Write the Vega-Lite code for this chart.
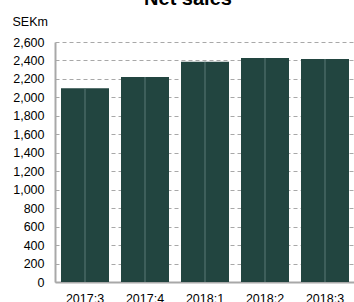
{
  "$schema": "https://vega.github.io/schema/vega-lite/v6.json",
  "autosize": "none",
  "width": 300,
  "height": 240,
  "padding": {"left": 55, "top": 42, "right": 0, "bottom": 20},
  "background": "white",
  "config": {
    "font": "Liberation Sans",
    "view": {"stroke": null}
  },
  "title": {
    "text": "Net sales",
    "font": "Liberation Sans",
    "fontSize": 20,
    "fontWeight": "bold",
    "color": "#000000",
    "anchor": "middle",
    "dx": -17,
    "offset": -10,
    "baseline": "alphabetic"
  },
  "data": {
    "values": [
      {"quarter": "2017:3", "value": 2100},
      {"quarter": "2017:4", "value": 2221},
      {"quarter": "2018:1", "value": 2387},
      {"quarter": "2018:2", "value": 2427},
      {"quarter": "2018:3", "value": 2416}
    ]
  },
  "encoding": {
    "x": {
      "field": "quarter",
      "type": "nominal",
      "sort": null,
      "scale": {"paddingInner": 0.2, "paddingOuter": 0.1},
      "axis": {
        "title": null,
        "labelAngle": 0,
        "labelFont": "Liberation Sans",
        "labelFontSize": 12.5,
        "labelColor": "#000000",
        "labelPadding": 10,
        "ticks": false,
        "domainColor": "#a8a8a8",
        "domainWidth": 2,
        "grid": false
      }
    },
    "y": {
      "field": "value",
      "type": "quantitative",
      "scale": {"domain": [0, 2600], "nice": false},
      "axis": {
        "values": [0, 200, 400, 600, 800, 1000, 1200, 1400, 1600, 1800, 2000, 2200, 2400, 2600],
        "format": ",d",
        "title": "SEKm",
        "titleAngle": 0,
        "titleFont": "Liberation Sans",
        "titleFontSize": 12.5,
        "titleFontWeight": "normal",
        "titleColor": "#000000",
        "titleAlign": "left",
        "titleBaseline": "alphabetic",
        "titleX": -43,
        "titleY": -17,
        "labelFont": "Liberation Sans",
        "labelFontSize": 12.5,
        "labelColor": "#000000",
        "labelPadding": 11,
        "ticks": false,
        "domainColor": "#a8a8a8",
        "domainWidth": 2,
        "grid": true,
        "gridColor": "#a8a8a8",
        "gridDash": [4, 3],
        "gridWidth": 1
      }
    }
  },
  "layer": [
    {
      "mark": {"type": "bar", "color": "#224540"}
    },
    {
      "mark": {"type": "rule", "color": "#5b7a76", "strokeWidth": 1},
      "encoding": {
        "y2": {"datum": 0}
      }
    }
  ]
}
